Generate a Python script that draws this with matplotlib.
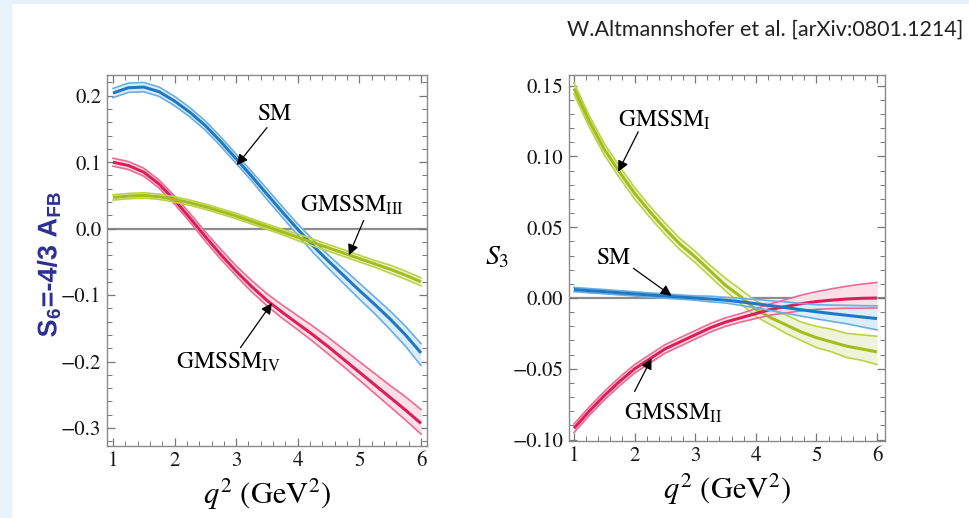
import numpy as np
import matplotlib
matplotlib.use("Agg")
import matplotlib.pyplot as plt
from matplotlib.patches import Rectangle, PathPatch
from matplotlib.textpath import TextPath
from matplotlib.font_manager import FontProperties
from matplotlib.transforms import Affine2D
from matplotlib.ticker import MultipleLocator, FuncFormatter

plt.rcParams['font.family'] = 'STIXGeneral'
plt.rcParams['mathtext.fontset'] = 'stix'

# q^2 grid (GeV^2)
q2 = np.linspace(1.0, 6.0, 21)

# left panel: S6 = -4/3 A_FB  (centre, upper and lower band offsets)
s6_sm = [0.204, 0.212, 0.213, 0.206, 0.192, 0.175, 0.155, 0.131, 0.105, 0.079, 0.052,
         0.025, -0.001, -0.026, -0.049, -0.071, -0.093, -0.114, -0.136, -0.160, -0.187]
s6_sm_up = [0.007, 0.007, 0.007, 0.007, 0.007, 0.007, 0.007, 0.007, 0.007, 0.007, 0.008,
            0.008, 0.008, 0.009, 0.009, 0.010, 0.011, 0.011, 0.012, 0.013, 0.014]
s6_sm_dn = [0.007, 0.007, 0.007, 0.007, 0.007, 0.007, 0.007, 0.007, 0.007, 0.007, 0.008,
            0.008, 0.009, 0.010, 0.011, 0.012, 0.013, 0.014, 0.016, 0.017, 0.019]

s6_iv = [0.100, 0.095, 0.085, 0.067, 0.043, 0.016, -0.012, -0.039, -0.064, -0.087, -0.108,
         -0.126, -0.143, -0.160, -0.178, -0.197, -0.216, -0.235, -0.254, -0.273, -0.293]
s6_iv_up = [0.006, 0.006, 0.006, 0.006, 0.006, 0.007, 0.007, 0.008, 0.008, 0.009, 0.010,
            0.011, 0.012, 0.013, 0.014, 0.015, 0.016, 0.017, 0.018, 0.020, 0.021]
s6_iv_dn = [0.006, 0.006, 0.006, 0.006, 0.006, 0.006, 0.007, 0.007, 0.007, 0.008, 0.008,
            0.009, 0.009, 0.010, 0.011, 0.011, 0.012, 0.013, 0.014, 0.015, 0.016]

s6_iii = [0.047, 0.049, 0.050, 0.048, 0.044, 0.039, 0.033, 0.026, 0.019, 0.011, 0.003,
          -0.005, -0.013, -0.021, -0.029, -0.037, -0.045, -0.053, -0.061, -0.070, -0.080]
s6_iii_up = [0.004, 0.004, 0.004, 0.004, 0.004, 0.004, 0.004, 0.004, 0.004, 0.004, 0.004,
             0.004, 0.005, 0.005, 0.005, 0.005, 0.005, 0.005, 0.006, 0.006, 0.006]
s6_iii_dn = s6_iii_up

# right panel: S3
s3_i = [0.148, 0.125, 0.105, 0.089, 0.074, 0.061, 0.049, 0.038, 0.029, 0.019, 0.009,
        0.001, -0.008, -0.014, -0.019, -0.024, -0.028, -0.031, -0.034, -0.036, -0.038]
s3_i_up = [0.004, 0.004, 0.004, 0.004, 0.004, 0.004, 0.004, 0.004, 0.004, 0.004, 0.005,
           0.005, 0.006, 0.006, 0.007, 0.007, 0.008, 0.009, 0.009, 0.010, 0.011]
s3_i_dn = [0.004, 0.004, 0.004, 0.004, 0.004, 0.004, 0.004, 0.004, 0.004, 0.004, 0.004,
           0.005, 0.005, 0.005, 0.006, 0.006, 0.007, 0.007, 0.008, 0.008, 0.009]

s3_sm = [0.006, 0.0052, 0.0045, 0.0037, 0.0029, 0.0021, 0.0014, 0.0007, 0.0, -0.0007, -0.0015,
         -0.0027, -0.004, -0.0054, -0.0068, -0.0083, -0.0097, -0.011, -0.0122, -0.0134, -0.0145]
s3_sm_up = [0.0015, 0.0015, 0.0015, 0.0015, 0.0015, 0.0015, 0.0015, 0.0015, 0.0015, 0.002, 0.002,
            0.0025, 0.003, 0.0035, 0.004, 0.0045, 0.005, 0.006, 0.007, 0.008, 0.009]
s3_sm_dn = [0.0015, 0.0015, 0.0015, 0.0015, 0.0015, 0.0015, 0.0015, 0.0015, 0.0015, 0.002, 0.002,
            0.0025, 0.003, 0.0035, 0.004, 0.0045, 0.005, 0.0055, 0.006, 0.007, 0.008]

s3_ii = [-0.092, -0.080, -0.069, -0.059, -0.050, -0.043, -0.036, -0.031, -0.026, -0.021, -0.017,
         -0.014, -0.011, -0.008, -0.006, -0.004, -0.0025, -0.0015, -0.0007, -0.0002, 0.0]
s3_ii_up = [0.003, 0.003, 0.003, 0.003, 0.003, 0.003, 0.003, 0.003, 0.003, 0.003, 0.003,
            0.003, 0.0035, 0.004, 0.005, 0.006, 0.007, 0.008, 0.009, 0.010, 0.011]
s3_ii_dn = [0.003, 0.003, 0.003, 0.003, 0.003, 0.003, 0.003, 0.003, 0.003, 0.003, 0.003,
            0.003, 0.0035, 0.004, 0.0045, 0.005, 0.0055, 0.006, 0.0065, 0.007, 0.007]

BLUE = ('#1f78c4', '#6aafe2', '#dcecf9')
RED = ('#dc1f5a', '#ee6a90', '#fbe0e8')
GREEN = ('#a3bd1c', '#bcd246', '#eff4d8')


def band(ax, c, up, dn, cols):
    c, up, dn = np.array(c), np.array(up), np.array(dn)
    ax.fill_between(q2, c - dn, c + up, color=cols[2], lw=0, zorder=2)
    ax.plot(q2, c + up, color=cols[1], lw=1.2, zorder=3, solid_joinstyle='round')
    ax.plot(q2, c - dn, color=cols[1], lw=1.2, zorder=3, solid_joinstyle='round')
    ax.plot(q2, c, color=cols[0], lw=2.2, zorder=3, solid_capstyle='butt',
            solid_joinstyle='round')


def style(ax, ymaj, ymin, nd):
    for s in ax.spines.values():
        s.set_color('#8a8a8a')
        s.set_linewidth(1.0)
    ax.xaxis.set_major_locator(MultipleLocator(1))
    ax.xaxis.set_minor_locator(MultipleLocator(0.2))
    ax.yaxis.set_major_locator(MultipleLocator(ymaj))
    ax.yaxis.set_minor_locator(MultipleLocator(ymin))
    ax.yaxis.set_major_formatter(FuncFormatter(
        lambda v, p: f'{v:.{nd}f}'.replace('-', '\u2212') if abs(v) > 1e-9 else f'{0:.{nd}f}'))
    ax.tick_params(which='both', direction='in', top=True, right=True,
                   color='#777777', labelsize=15, labelcolor='#151515')
    ax.tick_params(which='major', length=6, width=0.9, pad=4)
    ax.tick_params(which='minor', length=3.5, width=0.7)
    ax.axhline(0, color='#8c8c8c', lw=1.6, zorder=1)
    ax.set_xlabel(r'$q^2$ (GeV$^2$)', fontsize=22, labelpad=4)


def label(ax, txt, pos, start, tip):
    ax.text(pos[0], pos[1], txt, fontsize=17, ha='center', va='center', zorder=6)
    ax.annotate('', xy=tip, xytext=start, zorder=6,
                arrowprops=dict(arrowstyle='-|>', color='black', lw=0.9,
                                mutation_scale=16, shrinkA=0, shrinkB=0))


fig = plt.figure(figsize=(9.69, 5.18), dpi=100)
fig.patches.append(Rectangle((0, 0), 11 / 969, 1, transform=fig.transFigure,
                             color='#e6f3fc', zorder=0))
fig.patches.append(Rectangle((0, 1 - 3 / 518), 1, 3 / 518, transform=fig.transFigure,
                             color='#e6f3fc', zorder=0))

ax1 = fig.add_axes([0.1104, 0.139, 0.3302, 0.716])
ax2 = fig.add_axes([0.5872, 0.1486, 0.3261, 0.7066])

band(ax1, s6_sm, s6_sm_up, s6_sm_dn, BLUE)
band(ax1, s6_iv, s6_iv_up, s6_iv_dn, RED)
band(ax1, s6_iii, s6_iii_up, s6_iii_dn, GREEN)
style(ax1, 0.1, 0.02, 1)
ax1.set_xlim(0.903, 6.097)
ax1.set_ylim(-0.327, 0.231)
label(ax1, 'SM', (3.62, 0.172), (3.5, 0.152), (3.01, 0.0955))
label(ax1, r'GMSSM$_\mathregular{III}$', (4.88, 0.035), (5.07, 0.0124), (4.83, -0.040))
label(ax1, r'GMSSM$_\mathregular{IV}$', (2.87, -0.2015), (3.07, -0.179), (3.58, -0.112))

band(ax2, s3_i, s3_i_up, s3_i_dn, GREEN)
band(ax2, s3_ii, s3_ii_up, s3_ii_dn, RED)
band(ax2, s3_sm, s3_sm_up, s3_sm_dn, BLUE)
style(ax2, 0.05, 0.01, 2)
ax2.set_xlim(0.9175, 6.132)
ax2.set_ylim(-0.101, 0.1575)
label(ax2, r'GMSSM$_\mathregular{I}$', (2.50, 0.1257), (2.06, 0.1174), (1.73, 0.0892))
label(ax2, 'SM', (1.65, 0.028), (1.98, 0.021), (2.61, 0.0016))
label(ax2, r'GMSSM$_\mathregular{II}$', (2.64, -0.0814), (2.0, -0.066), (2.28, -0.0426))

fig.text(0.513, 0.502, r'$S_3$', fontsize=20, ha='center', va='center')

# left y label drawn as a rotated text path, placed in pixel coordinates
fp = FontProperties(family='Liberation Sans', weight='bold')
tp = TextPath((0, 0), r'S$_\mathregular{6}$=-4/3 A$_\mathregular{FB}$', size=27, prop=fp)
ext = tp.get_extents()
tr = (Affine2D().translate(-(ext.x0 + ext.x1) / 2, -(ext.y0 + ext.y1) / 2)
      .rotate_deg(90).translate(48.5, 518 - 265))
fig.patches.append(PathPatch(tp, transform=tr, facecolor='#2e3192', lw=0, zorder=5))

fig.text(0.994, 0.942, 'W.Altmannshofer et al. [arXiv:0801.1214]', family='Lato',
         fontsize=15.5, ha='right', va='center', color='#222222')

fig.savefig('out.png', dpi=100)
